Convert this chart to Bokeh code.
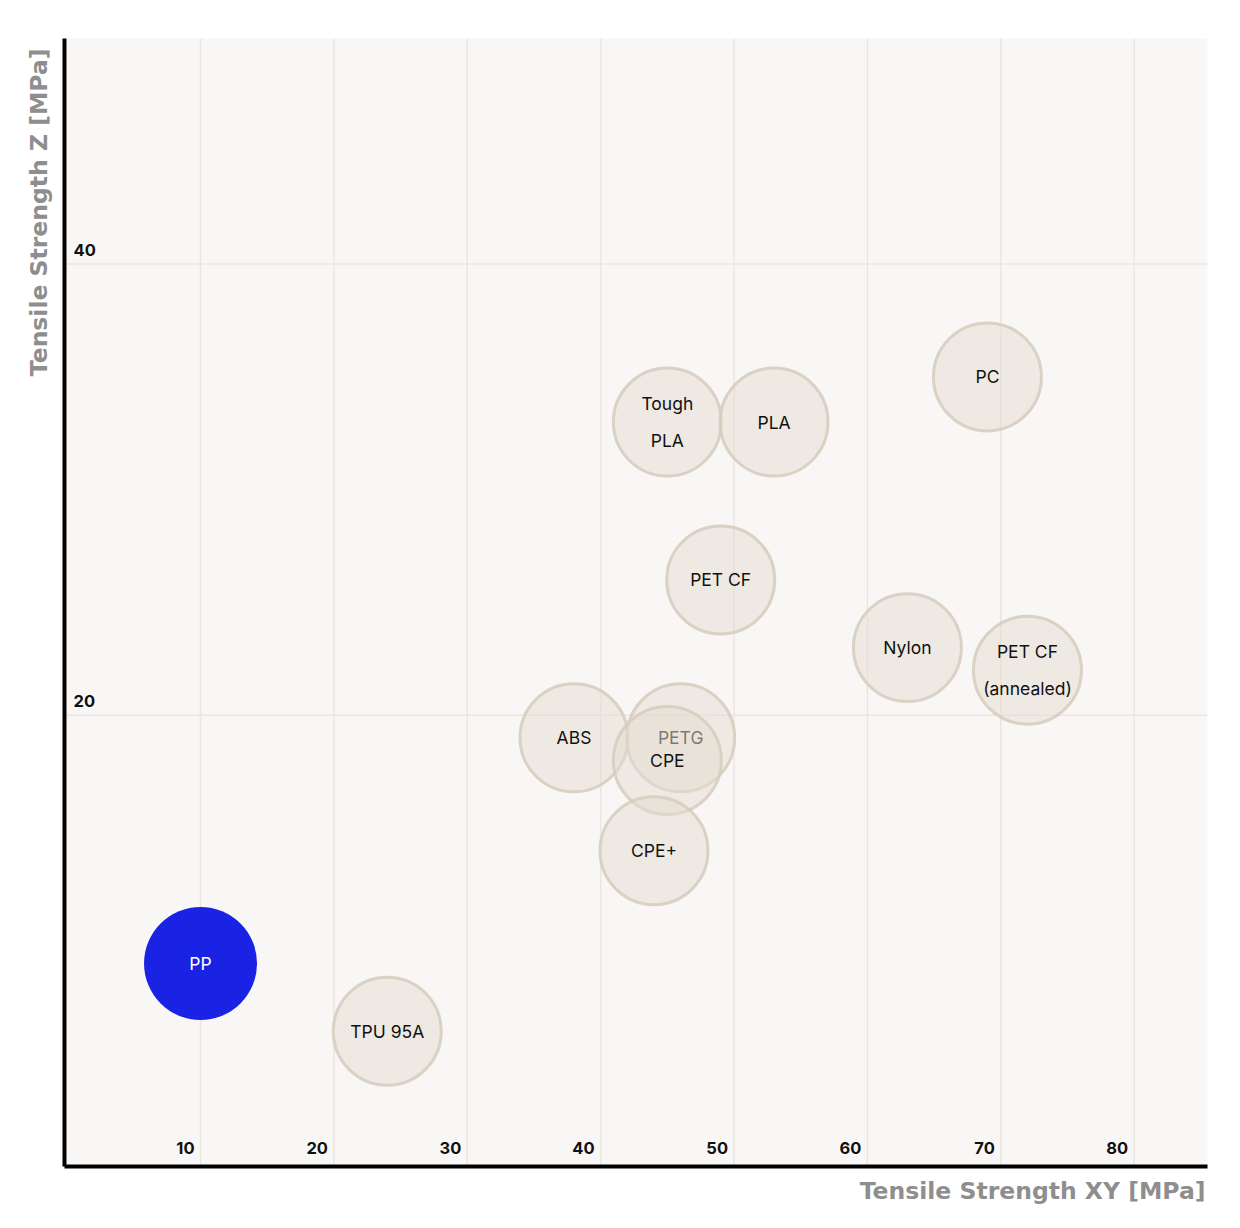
from bokeh.plotting import figure
from bokeh.models import Range1d, ColumnDataSource, Title, Span, FixedTicker
from bokeh.core.properties import value
from bokeh.embed import file_html
from bokeh.resources import INLINE

# ---- data ----
materials = ["PP", "TPU 95A", "ABS", "PETG", "CPE", "CPE+", "PET CF", "Nylon",
             "PET CF\n(annealed)", "Tough\nPLA", "PLA", "PC"]
xy_strength = [10, 24, 38, 46, 45, 44, 49, 63, 72, 45, 53, 69]
z_strength = [9, 6, 19, 19, 18, 14, 26, 23, 22, 33, 33, 35]
highlight = "PP"
x_ticks = [10, 20, 30, 40, 50, 60, 70, 80]
y_ticks = [20, 40]
x_title = "Tensile Strength XY [MPa]"
y_title = "Tensile Strength Z [MPa]"

FONT = value("Inter")
GRID = "#ebe6df"

p = figure(width=1232, height=1220,
           x_range=Range1d(-0.2, 85.5), y_range=Range1d(0, 50),
           output_backend="svg", toolbar_location=None,
           min_border_left=64, min_border_right=25,
           min_border_top=38, min_border_bottom=54,
           background_fill_color="#f8f7f5", border_fill_color="white",
           outline_line_color=None)

# axes: thick black lines only (labels are drawn inside the frame below)
for ax in (p.xaxis[0], p.yaxis[0]):
    ax.ticker = FixedTicker(ticks=[])
    ax.axis_line_color = "black"
    ax.axis_line_width = 4
    ax.major_tick_line_color = None
    ax.minor_tick_line_color = None
p.xgrid.grid_line_color = None
p.ygrid.grid_line_color = None

# grid lines
for t in x_ticks:
    p.add_layout(Span(location=t, dimension="height", line_color=GRID,
                      line_width=1.5, level="underlay"))
for t in y_ticks:
    p.add_layout(Span(location=t, dimension="width", line_color=GRID,
                      line_width=1.5, level="underlay"))

# bubbles, each circle followed by its label
for i, name in enumerate(materials):
    src = ColumnDataSource(dict(x=[xy_strength[i]], y=[z_strength[i]], t=[name]))
    if name == highlight:
        p.scatter("x", "y", source=src, size=113, fill_color="#1a22e4",
                  fill_alpha=1.0, line_color=None)
        tcol = "white"
    else:
        p.scatter("x", "y", source=src, size=108, fill_color="#e3dbcf",
                  fill_alpha=0.5, line_color="#d6cbbd", line_alpha=0.85,
                  line_width=3)
        tcol = "#111111"
    p.text("x", "y", text="t", source=src, text_align="center",
           text_baseline="middle", text_font=FONT, text_font_size="17.5px",
           text_line_height=1.75, text_color=tcol)

# tick labels inside the frame
xt = ColumnDataSource(dict(x=x_ticks, y=[0] * len(x_ticks),
                           t=[str(v) for v in x_ticks]))
p.text("x", "y", text="t", source=xt, text_align="right",
       text_baseline="middle", x_offset=-6, y_offset=-19,
       text_font=FONT, text_font_size="16.5px", text_font_style="bold",
       text_color="#111111")
yt = ColumnDataSource(dict(x=[-0.2] * len(y_ticks), y=y_ticks,
                           t=[str(v) for v in y_ticks]))
p.text("x", "y", text="t", source=yt, text_align="left",
       text_baseline="middle", x_offset=9, y_offset=-14,
       text_font=FONT, text_font_size="16.5px", text_font_style="bold",
       text_color="#111111")

# axis titles
p.add_layout(Title(text=x_title, align="right", standoff=16, offset=2,
                   text_font="DejaVu Sans", text_font_size="23.5px",
                   text_font_style="bold", text_color="#8e8e8e"), "below")
p.add_layout(Title(text=y_title, align="right", offset=10, standoff=23,
                   text_font="DejaVu Sans", text_font_size="23.5px",
                   text_font_style="bold", text_color="#8e8e8e"), "left")

open("out.html", "w").write(file_html(p, INLINE))
